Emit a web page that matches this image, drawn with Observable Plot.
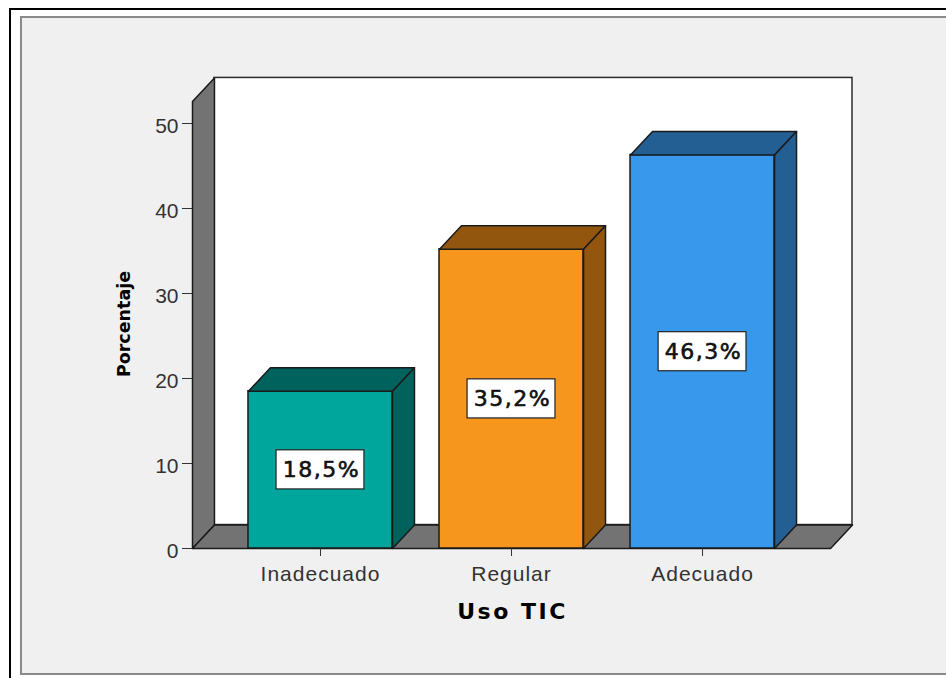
<!DOCTYPE html>
<html>
<head>
<meta charset="utf-8">
<script src="https://cdn.jsdelivr.net/npm/d3@7"></script>
<script src="https://cdn.jsdelivr.net/npm/@observablehq/plot@0.6"></script>
<style>
  html, body { margin: 0; padding: 0; background: #fff; overflow: hidden; }
  body { width: 946px; height: 678px; position: relative; }
  #outer {
    position: absolute; left: 9px; top: 8px; width: 2000px; height: 2000px;
    border-left: 2px solid #000; border-top: 2px solid #000;
  }
  #panel {
    position: absolute; left: 20px; top: 16px; width: 1200px; height: 659px;
    box-sizing: border-box; background: #f0f0f0;
    border: 2px solid #8a8a8a;
  }
  #chart { position: absolute; left: 0; top: 0; }
</style>
</head>
<body>
<div id="outer"></div>
<div id="panel"></div>
<div id="chart"></div>
<script>
// Uso TIC: percentage of respondents per category
const categories = ["Inadecuado", "Regular", "Adecuado"];
const percentages = [18.5, 35.2, 46.3];
const valueLabels = ["18,5%", "35,2%", "46,3%"];
const frontColors = ["#00a69c", "#f7961d", "#3899ec"];
const shadeColors = ["#00625d", "#93560f", "#235f93"];
const yTicks = [0, 10, 20, 30, 40, 50];
const xTitle = "Uso TIC";
const yTitle = "Porcentaje";

// 3D box geometry, expressed in scale units (categories sit at 1, 2, 3)
const HALF = 0.377;                    // half of a bar's width
const DEPTH_X = 0.115, DEPTH_Y = 2.76; // receding offset of the back faces
const WALL_L = 0.33, WALL_R = 3.67, WALL_TOP = 52.6;
const BOX_HALF_W = 0.23, BOX_HALF_H = 2.3; // value label boxes

const bars = categories.map((c, i) => ({
  category: c,
  pos: i + 1,
  value: percentages[i],
  label: valueLabels[i],
  front: frontColors[i],
  shade: shadeColors[i]
}));

// Closed polygons drawn as filled lines
function face(id, pts, fill) {
  return [...pts, pts[0]].map(([x, y]) => ({id, x, y, fill}));
}

const wallFaces = [
  ...face("left-wall", [[WALL_L, 0], [WALL_L, WALL_TOP], [WALL_L + DEPTH_X, WALL_TOP + DEPTH_Y], [WALL_L + DEPTH_X, DEPTH_Y]], "#737373"),
  ...face("floor", [[WALL_L, 0], [WALL_R, 0], [WALL_R + DEPTH_X, DEPTH_Y], [WALL_L + DEPTH_X, DEPTH_Y]], "#737373")
];

const barFaces = bars.flatMap(d => {
  const l = d.pos - HALF, r = d.pos + HALF, v = d.value;
  return [
    ...face(d.category + "-top", [[l, v], [r, v], [r + DEPTH_X, v + DEPTH_Y], [l + DEPTH_X, v + DEPTH_Y]], d.shade),
    ...face(d.category + "-side", [[r, 0], [r, v], [r + DEPTH_X, v + DEPTH_Y], [r + DEPTH_X, DEPTH_Y]], d.shade)
  ];
});

const edge = "#1a1a1a";
const wide = "'DejaVu Sans', Verdana, sans-serif";

const chart = Plot.plot({
  width: 946,
  height: 678,
  marginLeft: 192,
  marginRight: 94,
  marginTop: 123,
  marginBottom: 130,
  style: {background: "transparent", fontFamily: "'Liberation Sans', Arial, sans-serif"},
  x: {type: "linear", domain: [WALL_L, WALL_R + DEPTH_X], axis: null},
  y: {domain: [0, 50], axis: null},
  color: {type: "identity"},
  marks: [
    // back wall
    Plot.rect([{}], {
      x1: WALL_L + DEPTH_X, x2: WALL_R + DEPTH_X,
      y1: DEPTH_Y, y2: WALL_TOP + DEPTH_Y,
      fill: "#ffffff", stroke: "#2b2b2b", strokeWidth: 1.5
    }),
    // left wall and floor
    Plot.line(wallFaces, {x: "x", y: "y", z: "id", fill: "fill", stroke: edge, strokeWidth: 1.5, strokeLinejoin: "round"}),
    // bar fronts
    Plot.rect(bars, {
      x1: d => d.pos - HALF, x2: d => d.pos + HALF,
      y1: 0, y2: "value",
      fill: "front", stroke: edge, strokeWidth: 1.5
    }),
    // bar tops and sides
    Plot.line(barFaces, {x: "x", y: "y", z: "id", fill: "fill", stroke: edge, strokeWidth: 1.5, strokeLinejoin: "round"}),
    // value labels
    Plot.rect(bars, {
      x1: d => d.pos - BOX_HALF_W, x2: d => d.pos + BOX_HALF_W,
      y1: d => d.value / 2 - BOX_HALF_H, y2: d => d.value / 2 + BOX_HALF_H,
      fill: "#ffffff", stroke: "#222", strokeWidth: 1.2
    }),
    Plot.text(bars, {
      x: "pos", y: d => d.value / 2, text: "label",
      fontSize: 22, fontFamily: wide, fill: "#111", stroke: "#111", strokeWidth: 0.6, dx: 1
    }),
    // y axis: tick marks, then tick labels
    Plot.axisY(yTicks, {anchor: "left", tickSize: 10, tickFormat: () => "", label: null, color: "#333"}),
    Plot.axisY(yTicks, {anchor: "left", tickSize: 0, tickPadding: 14, dy: 3, fontSize: 21, label: null, color: "#333"}),
    // x axis
    Plot.axisX(bars.map(d => d.pos), {
      anchor: "bottom", tickSize: 8, tickPadding: 10, fontSize: 21,
      tickFormat: p => categories[p - 1], label: null, color: "#333"
    }),
    // axis titles
    Plot.text([xTitle], {
      x: bars[1].pos, frameAnchor: "bottom", dy: 63, lineAnchor: "middle", textAnchor: "middle",
      fontSize: 22, fontFamily: wide, fontWeight: "bold", fill: "#000", dx: 1
    }),
    Plot.text([yTitle], {
      frameAnchor: "left", rotate: -90, dx: -68, dy: -12, textAnchor: "middle", lineAnchor: "middle",
      fontSize: 17.5, fontFamily: wide, fontWeight: "bold", fill: "#000"
    })
  ]
});

// letter spacing of the labels
const spacing = new Map([
  ...valueLabels.map(t => [t, "1.5px"]),
  ...categories.map(t => [t, "1px"]),
  [xTitle, "2.5px"]
]);
d3.select(chart).selectAll("text").each(function () {
  const s = spacing.get(this.textContent);
  if (s) this.style.letterSpacing = s;
});

document.getElementById("chart").appendChild(chart);
</script>
</body>
</html>
